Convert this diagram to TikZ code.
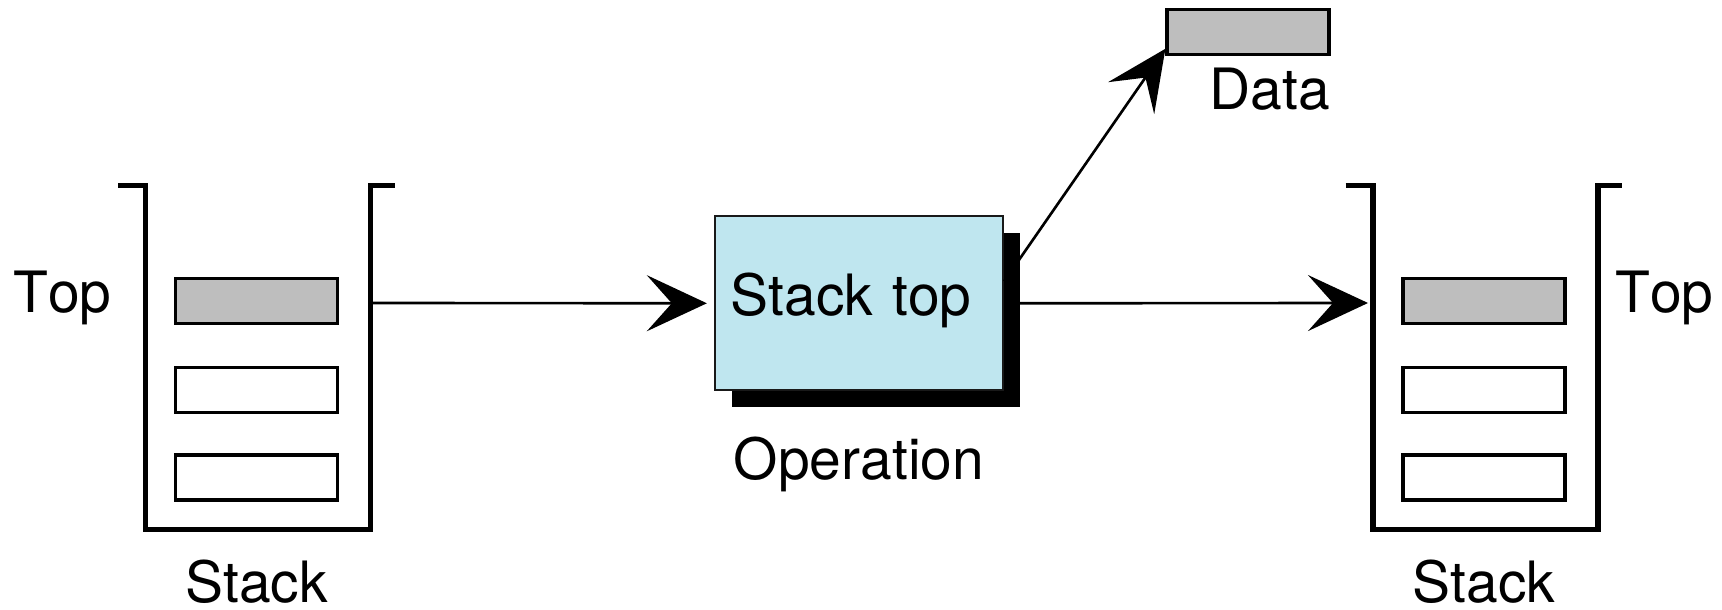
\documentclass[tikz,border=0pt]{standalone}
\usepackage{fontspec}
\setmainfont[Kerning=Off]{TeX Gyre Heros}
\usetikzlibrary{arrows.meta,shadows,calc}
\definecolor{cellgray}{RGB}{190,190,190}
\definecolor{opblue}{RGB}{191,230,239}
\begin{document}
\begin{tikzpicture}[x=0.01cm, y=-0.01cm,
  font=\fontsize{16.2}{19}\selectfont,
  wall/.style={line width=1.5pt, line join=miter},
  cell/.style={draw, line width=0.9pt, minimum width=1.62cm, minimum height=0.45cm,
    inner sep=0pt, fill=white},
  topcell/.style={cell, fill=cellgray},
  opbox/.style={draw=black!90, line width=0.6pt, fill=opblue, text width=2.56cm,
    align=left, inner xsep=0.16cm, inner ysep=0pt, minimum height=1.74cm,
    text height=0.72em, text depth=0pt,
    drop shadow={shadow xshift=0.17cm, shadow yshift=-0.17cm, fill=black, opacity=1}},
  flow/.style={line width=0.75pt, -{Stealth[length=0.6cm, width=0.56cm, inset=0.25cm]}},
  lbl/.style={anchor=base, inner sep=0pt}]
\useasboundingbox (0,0) rectangle (1722,610);

% input stack
\draw[wall] (118,185.5) -- (145.8,185.5) -- (145.8,529.3) -- (370.8,529.3)
  -- (370.8,185.5) -- (395,185.5);
\node[topcell] (l1) at (256.7,300.8) {};
\node[cell] (l2) at (256.7,390.3) {};
\node[cell] (l3) at (256.7,477.5) {};
\node[lbl] (ltop) at (62.5,313) {Top};
\node[lbl] (lname) at (256.5,602) {Stack};
\coordinate (lout) at (370.8,303);

% output stack
\draw[wall] (1345.7,185.5) -- (1373,185.5) -- (1373,529.3) -- (1598,529.3)
  -- (1598,185.5) -- (1621.7,185.5);
\node[topcell] (r1) at (1484,300.8) {};
\node[cell] (r2) at (1484,390.3) {};
\node[cell] (r3) at (1484,477.5) {};
\node[lbl] (rtop) at (1664.5,313) {Top};
\node[lbl] (rname) at (1484,602) {Stack};
\coordinate (rin) at (1368,303);

% operation box
\node[opbox] (op) at (859,303.3) {Stack top};
\node[lbl] (opname) at (859,480) {Operation};

% popped data
\node[topcell] (data) at (1248,31.7) {};
\node[lbl] (dname) at (1269.5,110) {Data};

% connectors
\draw[flow, shorten >=0.07cm] (lout) -- (op.west);
\draw[flow] (op.east) -- (rin);
\draw[flow] ([yshift=0.22cm]op.east) -- ($(data.south west)+(0,-7)$);
\end{tikzpicture}
\end{document}
